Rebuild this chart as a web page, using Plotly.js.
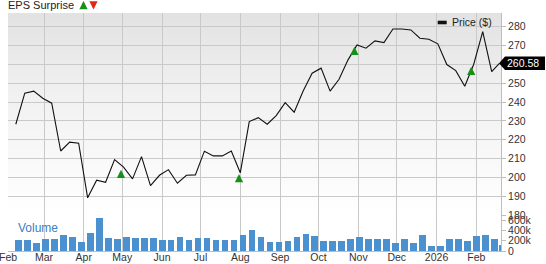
<!DOCTYPE html>
<html><head><meta charset="utf-8">
<script src="https://cdn.plot.ly/plotly-3.0.1.min.js"></script>
<style>
html,body{margin:0;padding:0;background:#fff;}
#wrap{position:relative;width:546px;height:264px;overflow:hidden;}
#bg{position:absolute;left:8px;top:13px;width:493px;height:202px;background:linear-gradient(to bottom,#e2e2e2 0%,#f1f1f1 40%,#ffffff 100%);}
#chart{position:absolute;left:0;top:0;width:546px;height:264px;}
</style></head><body>
<div id="wrap"><div id="bg"></div><div id="chart"></div></div>
<script>
// ---- data ----
const weekDates = ['2025-02-07','2025-02-14','2025-02-21','2025-02-28','2025-03-07','2025-03-14','2025-03-21','2025-03-28',
 '2025-04-04','2025-04-11','2025-04-18','2025-04-25','2025-05-02','2025-05-09','2025-05-16','2025-05-23','2025-05-30',
 '2025-06-06','2025-06-13','2025-06-20','2025-06-27','2025-07-04','2025-07-11','2025-07-18','2025-07-25',
 '2025-08-01','2025-08-08','2025-08-15','2025-08-22','2025-08-29','2025-09-05','2025-09-12','2025-09-19','2025-09-26',
 '2025-10-03','2025-10-10','2025-10-17','2025-10-24','2025-10-31','2025-11-07','2025-11-14','2025-11-21','2025-11-28',
 '2025-12-05','2025-12-12','2025-12-19','2025-12-26','2026-01-02','2026-01-09','2026-01-16','2026-01-23','2026-01-30',
 '2026-02-06','2026-02-13','2026-02-19'];
const price = [228.2,244.7,245.8,242.0,239.4,214.0,218.7,218.1,189.1,198.5,
 197.4,209.4,205.4,199.2,211.0,195.6,201.1,204.1,196.9,201.1,
 201.3,213.9,211.4,211.4,214.0,202.4,229.6,231.7,228.2,232.8,
 239.7,234.6,245.9,255.3,258.0,245.8,252.1,262.4,270.3,268.6,
 272.5,271.6,278.8,278.8,278.3,273.9,273.4,270.9,259.9,256.7,
 248.4,260.1,277.4,256.2,260.58];
const volume = [210000,210000,152000,230000,230000,315000,269000,179000,341000,647000,
 249000,224000,269000,257000,249000,257000,210000,218000,263000,210000,
 257000,257000,210000,210000,218000,302000,413000,277000,179000,179000,
 199000,282000,335000,288000,204000,199000,185000,243000,277000,230000,
 224000,224000,146000,224000,165000,315000,93000,93000,224000,224000,
 191000,288000,315000,243000,113000];
const epsDates = ['2025-04-30','2025-07-31','2025-10-29','2026-01-28'];
const epsLevel = [204.0,201.8,269.4,258.8];
const monthTicks = ['2025-02-01','2025-03-01','2025-04-01','2025-05-01','2025-06-01','2025-07-01','2025-08-01',
 '2025-09-01','2025-10-01','2025-11-01','2025-12-01','2026-01-01','2026-02-01'];
const monthLabels = ['Feb','Mar','Apr','May','Jun','Jul','Aug','Sep','Oct','Nov','Dec','2026','Feb'];
const priceTicks = [180,190,200,210,220,230,240,250,260,270,280];
const volTicks = [0,200000,400000,600000];
const volLabels = ['0','200k','400k','600k'];

// ---- styling ----
const FONT = '"Liberation Sans", Arial, Helvetica, sans-serif';
const GRID = '#c9c9c9';
const AXL = '#bdbdbd';
const DAY = 86400000;
const volFrac = 36/238;
const lastPrice = price[price.length-1];
const ARROW = {showarrow:true, text:'', arrowhead:2, arrowsize:0.75, arrowwidth:2.2};

const traces = [
 {type:'scatter', mode:'lines', x:weekDates, y:price, xaxis:'x', yaxis:'y',
  line:{color:'#111', width:1.1}, hoverinfo:'skip', name:'Price ($)'},
 {type:'bar', x:weekDates, y:volume, xaxis:'x', yaxis:'y2',
  marker:{color:'#4b91cf', line:{width:0}}, offset:-0.5*DAY, width:5.2*DAY, hoverinfo:'skip', name:'Volume'}
];

const annotations = [
 {xref:'paper', yref:'paper', x:0, y:1, xanchor:'left', yanchor:'bottom', xshift:-2, yshift:0,
  text:'EPS Surprise', showarrow:false, font:{family:FONT, size:11, color:'#222'}},
 Object.assign({xref:'paper', yref:'paper', x:(83.5-8)/493, y:1+12.5/238, ax:0, ay:9, arrowcolor:'#179017'}, ARROW),
 Object.assign({xref:'paper', yref:'paper', x:(93.5-8)/493, y:1+3.5/238, ax:0, ay:-9, arrowcolor:'#e3231c'}, ARROW),
 {xref:'paper', yref:'paper', x:(452-8)/493, y:(251-22)/238, xanchor:'left', yanchor:'middle', xshift:-2,
  text:'Price ($)', showarrow:false, font:{family:FONT, size:10.5, color:'#222'}},
 {xref:'paper', yref:'paper', x:(18-8)/493, y:(251-227.5)/238, xanchor:'left', yanchor:'middle', xshift:-2,
  text:'Volume', showarrow:false, font:{family:FONT, size:12, color:'#3a80c4'}},
 {xref:'paper', yref:'y', x:1, y:lastPrice, xanchor:'left', yanchor:'middle', xshift:4,
  text:lastPrice.toFixed(2), showarrow:false, font:{family:FONT, size:10.5, color:'#fff'}}
];
epsDates.forEach((d,i)=>{
 annotations.push(Object.assign({xref:'x', yref:'y', x:d, y:epsLevel[i], ax:0, ay:9, arrowcolor:'#179017'}, ARROW));
});

const shapes = [
 {type:'rect', xref:'paper', yref:'paper', x0:(437.7-8)/493, x1:(446.7-8)/493, y0:(251-24.3)/238, y1:(251-20.7)/238,
  fillcolor:'#111', line:{width:0}},
 {type:'path', xref:'paper', yref:'y', xsizemode:'pixel', ysizemode:'pixel', xanchor:1, yanchor:lastPrice,
  path:'M-2,0L4,6.7L44,6.7L44,-6.7L4,-6.7Z', fillcolor:'#000', line:{width:0}}
];

const layout = {
 width:546, height:264,
 margin:{l:8, r:45, t:13, b:13, pad:0},
 paper_bgcolor:'rgba(0,0,0,0)', plot_bgcolor:'rgba(0,0,0,0)',
 font:{family:FONT, size:10.5, color:'#333'},
 showlegend:false, bargap:0,
 xaxis:{type:'date', range:['2025-01-31 22:00','2026-02-20 06:00'], anchor:'y2',
  tickmode:'array', tickvals:monthTicks, ticktext:monthLabels,
  showgrid:true, gridcolor:GRID, gridwidth:1, ticks:'', showline:true, linecolor:AXL, zeroline:false,
  ticklabelstandoff:-4, ticklabeloverflow:'allow',
  tickfont:{family:FONT, size:10.5, color:'#333'}},
 yaxis:{domain:[volFrac,1], range:[180,287.3], side:'right', anchor:'x',
  tickmode:'array', tickvals:priceTicks,
  showgrid:true, gridcolor:GRID, gridwidth:1, showline:true, linecolor:AXL,
  ticks:'outside', ticklen:4, tickcolor:AXL, zeroline:false,
  tickfont:{family:FONT, size:10.5, color:'#333'}},
 yaxis2:{domain:[0,volFrac], range:[0,700000], side:'right', anchor:'x',
  tickmode:'array', tickvals:volTicks, ticktext:volLabels,
  showgrid:false, showline:true, linecolor:AXL, ticks:'outside', ticklen:4, tickcolor:AXL, zeroline:false,
  tickfont:{family:FONT, size:10.5, color:'#333'}},
 annotations:annotations,
 shapes:shapes
};

Plotly.newPlot('chart', traces, layout, {staticPlot:true, displayModeBar:false});
</script>
</body></html>
